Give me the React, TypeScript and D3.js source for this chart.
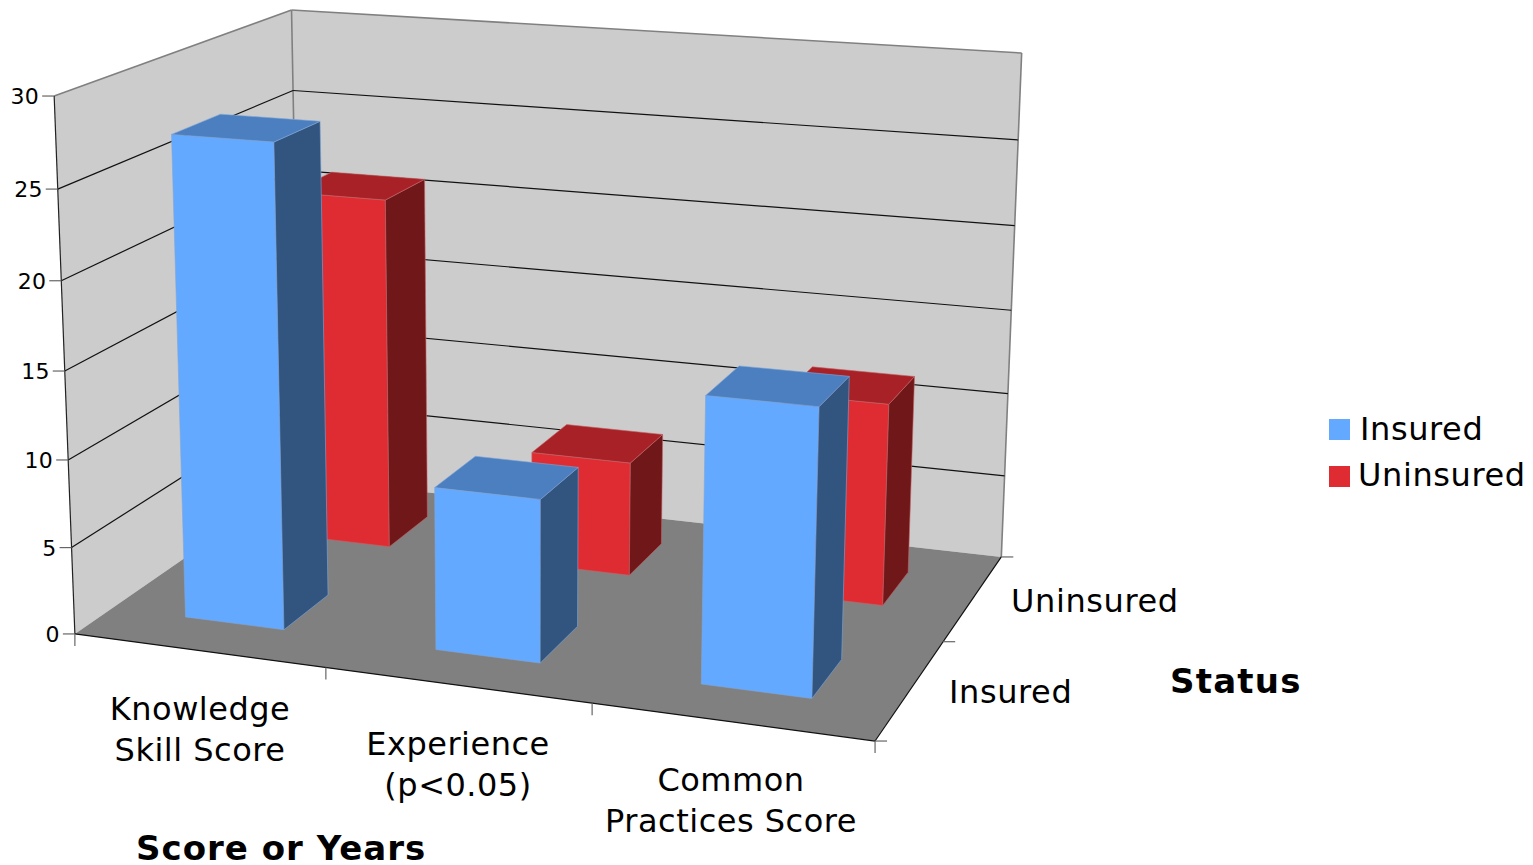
import React from "react";
import * as d3 from "d3";

// Chart content
const categories = [["Knowledge", "Skill Score"], ["Experience", "(p<0.05)"], ["Common", "Practices Score"]];
const statuses = ["Insured", "Uninsured"];
const insuredValues = [27.4, 9.2, 15.8];
const uninsuredValues = [21.1, 6.8, 11.8];
const valueDomain = [0, 30];
const xTitle = "Score or Years";
const depthTitle = "Status";

// Box corners of the plot as (x, depth, height) in unit space and on screen
const cameraAnchors: [number, number, number, number, number][] = [
  [0, 0, 0, 77, 634],
  [1, 0, 0, 875, 741],
  [1, 1, 0, 1002, 557],
  [0, 1, 0, 298, 478],
  [0, 0, 1, 52, 96],
  [0, 1, 1, 294, 10],
  [1, 1, 1, 1021, 53],
];

function solveLinear(A: number[][], b: number[]) {
  const n = b.length;
  const M = A.map((r, i) => [...r, b[i]]);
  for (let c = 0; c < n; c++) {
    let piv = c;
    for (let r = c + 1; r < n; r++) if (Math.abs(M[r][c]) > Math.abs(M[piv][c])) piv = r;
    [M[c], M[piv]] = [M[piv], M[c]];
    for (let r = 0; r < n; r++) {
      if (r === c) continue;
      const f = M[r][c] / M[c][c];
      for (let k = c; k <= n; k++) M[r][k] -= f * M[c][k];
    }
  }
  return M.map((r, i) => r[n] / r[i]);
}

// Least-squares fit of the perspective camera to the anchors
function fitCamera() {
  const rows: number[][] = [];
  const rhs: number[] = [];
  for (const [X, Y, Z, u0, v0] of cameraAnchors) {
    const u = u0 / 1000;
    const v = v0 / 1000;
    rows.push([X, Y, Z, 1, 0, 0, 0, 0, -u * X, -u * Y, -u * Z]);
    rhs.push(u);
    rows.push([0, 0, 0, 0, X, Y, Z, 1, -v * X, -v * Y, -v * Z]);
    rhs.push(v);
  }
  const n = 11;
  const AtA = d3.range(n).map((i) => d3.range(n).map((j) => d3.sum(rows, (r) => r[i] * r[j])));
  const Atb = d3.range(n).map((i) => d3.sum(rows, (r, k) => r[i] * rhs[k]));
  return solveLinear(AtA, Atb);
}

const cam = fitCamera();
type P = [number, number];
const project = (X: number, Y: number, Z: number): P => {
  const w = cam[8] * X + cam[9] * Y + cam[10] * Z + 1;
  return [
    (1000 * (cam[0] * X + cam[1] * Y + cam[2] * Z + cam[3])) / w,
    (1000 * (cam[4] * X + cam[5] * Y + cam[6] * Z + cam[7])) / w,
  ];
};

const xBand = d3.scaleBand<number>().domain([0, 1, 2]).range([0, 1]).paddingInner(0.6).paddingOuter(0.3);
const depthBand = d3.scaleBand<number>().domain([0, 1]).range([0, 1]).paddingInner(0.6).paddingOuter(0.3);
const zScale = d3.scaleLinear().domain(valueDomain).range([0, 1]);
const path = d3.line<P>();
const poly = (pts: P[]) => path(pts) + "Z";

const palette = [
  { front: "#63a9ff", side: "#31557f", top: "#4b7fbf", edge: "#7fa6d8" },
  { front: "#df2c33", side: "#6f1719", top: "#a72127", edge: "#c46468" },
];

const FONT = "'DejaVu Sans', Verdana, sans-serif";

function Bar({ cat, row, value }: { cat: number; row: number; value: number }) {
  const x0 = xBand(cat)!;
  const x1 = x0 + xBand.bandwidth();
  const y0 = depthBand(row)!;
  const y1 = y0 + depthBand.bandwidth();
  const z = zScale(value);
  const c = palette[row];
  const faces: [P[], string][] = [
    [[project(x0, y0, 0), project(x1, y0, 0), project(x1, y0, z), project(x0, y0, z)], c.front],
    [[project(x1, y0, 0), project(x1, y1, 0), project(x1, y1, z), project(x1, y0, z)], c.side],
    [[project(x0, y0, z), project(x1, y0, z), project(x1, y1, z), project(x0, y1, z)], c.top],
  ];
  return (
    <g>
      {faces.map(([pts, fill], i) => (
        <path key={i} d={poly(pts)} fill={fill} stroke={c.edge} strokeWidth={0.6} strokeLinejoin="round" />
      ))}
    </g>
  );
}

const seg = (a: P, b: P, stroke: string, w = 1.2) => (
  <line x1={a[0]} y1={a[1]} x2={b[0]} y2={b[1]} stroke={stroke} strokeWidth={w} />
);

export default function App() {
  const ticks = zScale.ticks(6);
  const rows = [uninsuredValues, insuredValues];
  const rowIndex = [1, 0];
  const catTicks = [0, 1 / 3, 2 / 3, 1];
  const depthTicks = [0, 0.5, 1];
  const catLabels: [number, number][] = [[200, 720], [458, 755], [731, 791]];
  const depthLabels: [number, number][] = [[949, 703], [1011, 612]];

  return (
    <svg
      width={1533}
      height={865}
      style={{ position: "absolute", left: 0, top: 0, background: "#fff" }}
      fontFamily={FONT}
      fill="#000"
    >
      {/* walls and floor */}
      <path d={poly([project(0, 0, 0), project(0, 1, 0), project(0, 1, 1), project(0, 0, 1)])} fill="#cccccc" />
      <path d={poly([project(0, 1, 0), project(1, 1, 0), project(1, 1, 1), project(0, 1, 1)])} fill="#cccccc" />
      <path d={poly([project(0, 0, 0), project(1, 0, 0), project(1, 1, 0), project(0, 1, 0)])} fill="#808080" />

      {/* outer wall edges */}
      {seg(project(0, 0, 1), project(0, 1, 1), "#808080", 1.6)}
      {seg(project(0, 1, 1), project(1, 1, 1), "#808080", 1.6)}
      {seg(project(1, 1, 1), project(1, 1, 0), "#808080", 1.6)}
      {seg(project(0, 1, 1), project(0, 1, 0), "#808080", 1.6)}

      {/* gridlines */}
      {ticks.filter((t) => t > 0 && t < valueDomain[1]).map((t) => {
        const z = zScale(t);
        return (
          <g key={t}>
            {seg(project(0, 0, z), project(0, 1, z), "#111")}
            {seg(project(0, 1, z), project(1, 1, z), "#111")}
          </g>
        );
      })}

      {/* axis lines */}
      {seg(project(0, 0, 0), project(0, 0, 1), "#222")}
      {seg(project(0, 0, 0), project(1, 0, 0), "#111")}
      {seg(project(1, 0, 0), project(1, 1, 0), "#111")}

      {/* value ticks */}
      {ticks.map((t) => {
        const p = project(0, 0, zScale(t));
        return (
          <g key={t}>
            {seg([p[0] - 12, p[1]], p, "#666")}
            <text x={p[0] - 15} y={p[1] + 8} textAnchor="end" fontSize={22} letterSpacing={0.3}>{t}</text>
          </g>
        );
      })}

      {/* category ticks */}
      {catTicks.map((t) => {
        const p = project(t, 0, 0);
        return <g key={t}>{seg(p, [p[0], p[1] + 12], "#666")}</g>;
      })}

      {/* depth ticks */}
      {depthTicks.map((t) => {
        const p = project(1, t, 0);
        return <g key={t}>{seg(p, [p[0] + 12, p[1]], "#666")}</g>;
      })}

      {/* columns, back row first */}
      {rows.map((vals, r) =>
        vals.map((v, i) => <Bar key={`${r}-${i}`} cat={i} row={rowIndex[r]} value={v} />)
      )}

      {/* category labels */}
      {categories.map((lines, i) => (
        <g key={i}>
          {lines.map((l, k) => (
            <text key={k} x={catLabels[i][0]} y={catLabels[i][1] + k * 41} textAnchor="middle" fontSize={32} letterSpacing={0.5}>{l}</text>
          ))}
        </g>
      ))}

      {/* depth labels */}
      {statuses.map((s, i) => (
        <text key={s} x={depthLabels[i][0]} y={depthLabels[i][1]} fontSize={32} letterSpacing={0.6}>{s}</text>
      ))}

      {/* axis titles */}
      <text x={136} y={860} fontSize={34} fontWeight="bold" letterSpacing={1}>{xTitle}</text>
      <text x={1170} y={693} fontSize={34} fontWeight="bold" letterSpacing={1.2}>{depthTitle}</text>

      {/* legend */}
      {statuses.map((s, i) => (
        <g key={s}>
          <rect x={1329} y={419 + i * 47} width={21} height={21} fill={palette[i].front} />
          <text x={i === 0 ? 1360 : 1358} y={440 + i * 46} fontSize={32} letterSpacing={0.6}>{s}</text>
        </g>
      ))}
    </svg>
  );
}
